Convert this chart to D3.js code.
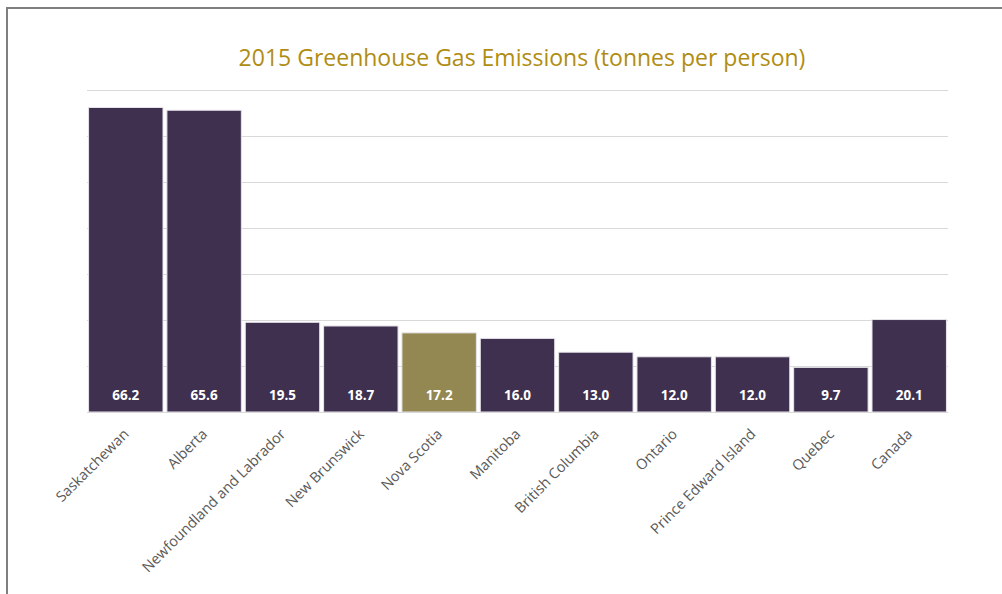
<!DOCTYPE html>
<html>
<head>
  <meta charset="utf-8">
  <title>2015 Greenhouse Gas Emissions</title>
  <script src="https://d3js.org/d3.v7.min.js"></script>
  <style>
    body { margin: 0; background: #fff; }
  </style>
</head>
<body>
  <div id="chart"></div>
</body>

<script>
  // data
  const provinces = ["Saskatchewan", "Alberta", "Newfoundland and Labrador", "New Brunswick",
    "Nova Scotia", "Manitoba", "British Columbia", "Ontario", "Prince Edward Island", "Quebec", "Canada"];
  const emissions = [66.2, 65.6, 19.5, 18.7, 17.2, 16.0, 13.0, 12.0, 12.0, 9.7, 20.1];
  const highlighted = ["Nova Scotia"];
  const gridTicks = [0, 10, 20, 30, 40, 50, 60, 70];

  const data = provinces.map((p, i) => ({ name: p, value: emissions[i] }));

  const W = 1002, H = 594;
  const margin = {top: 90, right: 54, bottom: 182, left: 87},
      width = W - margin.left - margin.right,
      height = H - margin.top - margin.bottom;

  const root = d3.select("#chart")
    .append("svg")
      .attr("width", W)
      .attr("height", H);

  // outer frame
  root.append("rect")
    .attr("x", 7).attr("y", 8)
    .attr("width", W + 10).attr("height", H + 10)
    .attr("fill", "none")
    .attr("stroke", "#7f7f7f")
    .attr("stroke-width", 2);

  root.append("text")
    .attr("x", 522).attr("y", 66)
    .attr("text-anchor", "middle")
    .attr("font-family", "Open Sans, sans-serif")
    .attr("font-size", 23)
    .attr("fill", "#b08d12")
    .text("2015 Greenhouse Gas Emissions (tonnes per person)");

  const svg = root.append("g")
    .attr("transform", `translate(${margin.left},${margin.top})`);

  const x = d3.scaleBand()
    .domain(provinces)
    .range([0, width])
    .paddingInner(0.05)
    .paddingOuter(0.02);

  const y = d3.scaleLinear()
    .domain([0, 70])
    .range([height, 0]);

  // gridlines
  svg.append("g")
    .call(d3.axisLeft(y).tickValues(gridTicks).tickSize(-width).tickFormat(""))
    .call(g => g.select(".domain").remove())
    .call(g => g.selectAll("line").attr("stroke", "#d9d9d9").attr("stroke-width", 1));

  // bars
  svg.selectAll(".bar")
    .data(data)
    .enter()
    .append("rect")
      .attr("class", "bar")
      .attr("x", d => x(d.name))
      .attr("y", d => y(d.value))
      .attr("width", x.bandwidth())
      .attr("height", d => height - y(d.value))
      .attr("fill", d => highlighted.includes(d.name) ? "#938852" : "#3f3050")
      .attr("stroke", "#e6e3ea")
      .attr("stroke-width", 1);

  // value labels
  svg.selectAll(".val")
    .data(data)
    .enter()
    .append("text")
      .attr("x", d => x(d.name) + x.bandwidth() / 2)
      .attr("y", height - 12)
      .attr("text-anchor", "middle")
      .attr("font-family", "Open Sans, sans-serif")
      .attr("font-size", 13.5)
      .attr("font-weight", "bold")
      .attr("fill", "#ffffff")
      .text(d => d.value.toFixed(1));

  // x axis
  const xAxis = svg.append("g")
    .attr("transform", `translate(0, ${height})`)
    .call(d3.axisBottom(x).tickSize(0).tickPadding(0));
  xAxis.select(".domain").attr("stroke", "#d9d9d9");
  xAxis.selectAll("text")
    .attr("font-family", "Open Sans, sans-serif")
    .attr("font-size", 14.5)
    .attr("fill", "#595959")
    .attr("text-anchor", "end")
    .attr("dy", "0")
    .attr("transform", "translate(4,23) rotate(-45)");
</script>

</html>
